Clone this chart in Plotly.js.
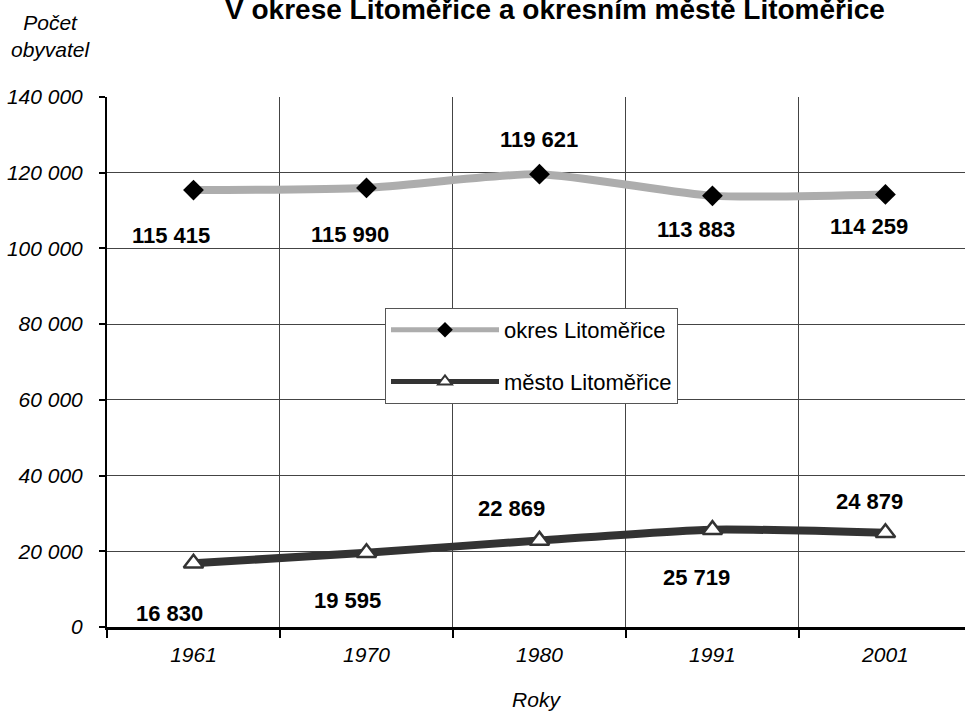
<!DOCTYPE html>
<html>
<head>
<meta charset="utf-8">
<script src="https://cdn.plot.ly/plotly-3.0.1.min.js"></script>
<style>html,body{margin:0;padding:0;background:#fff;}#chart{width:965px;height:713px;}</style>
</head>
<body>
<div id="chart"></div>
<script>
// ---- data ----
var years = ['1961', '1970', '1980', '1991', '2001'];
var okresValues = [115415, 115990, 119621, 113883, 114259];
var mestoValues = [16830, 19595, 22869, 25719, 24879];
var okresName = 'okres Litoměřice';
var mestoName = 'město Litoměřice';
var yTickValues = [0, 20000, 40000, 60000, 80000, 100000, 120000, 140000];
var titleText = 'V okrese Litoměřice a okresním městě Litoměřice';
var yTitleText = 'Počet<br>obyvatel';
var xTitleText = 'Roky';

// ---- label offsets (pixels) ----
var okresShiftX = [-22, -16, 0, -16, -16];
var okresShiftY = [-45, -47, 35, -34, -32];
var mestoShiftX = [-24, -19, -28, -16, -16];
var mestoShiftY = [-50, -48, 32, -48, 31];

function fmt(v) {
  return String(v).replace(/\B(?=(\d{3})+(?!\d))/g, ' ');
}

var FONT = 'Liberation Sans, Arial, sans-serif';

var traces = [
  {
    x: years, y: okresValues, name: okresName, type: 'scatter', mode: 'lines+markers',
    legendgroup: 'a',
    line: {color: '#adadad', width: 8, shape: 'spline', smoothing: 0.6},
    marker: {symbol: 'diamond', size: 16, color: '#000000', line: {width: 0}}
  },
  {
    x: years, y: mestoValues, name: mestoName, type: 'scatter', mode: 'lines+markers',
    legendgroup: 'b',
    line: {color: '#333333', width: 8, shape: 'spline', smoothing: 0.6},
    marker: {symbol: 'triangle-up', size: 17, color: '#ffffff', line: {width: 2.5, color: '#333333'}}
  }
];

var annotations = [];
years.forEach(function (yr, i) {
  annotations.push({
    x: i, y: okresValues[i], xref: 'x', yref: 'y', text: fmt(okresValues[i]),
    showarrow: false, xshift: okresShiftX[i], yshift: okresShiftY[i],
    xanchor: 'center', yanchor: 'middle',
    font: {family: FONT, size: 22, color: '#000', weight: 'bold'}
  });
  annotations.push({
    x: i, y: mestoValues[i], xref: 'x', yref: 'y', text: fmt(mestoValues[i]),
    showarrow: false, xshift: mestoShiftX[i], yshift: mestoShiftY[i],
    xanchor: 'center', yanchor: 'middle',
    font: {family: FONT, size: 22, color: '#000', weight: 'bold'}
  });
});
annotations.push({
  xref: 'paper', yref: 'paper', x: (51 - 107) / 858, y: (627 - 36) / 530,
  xanchor: 'center', yanchor: 'middle', showarrow: false, text: yTitleText,
  font: {family: FONT, size: 21, color: '#000', style: 'italic'}
});

var layout = {
  width: 965, height: 713,
  paper_bgcolor: '#ffffff', plot_bgcolor: '#ffffff',
  margin: {l: 107, r: 0, t: 97, b: 86},
  separators: ', ',
  font: {family: FONT, color: '#000'},
  showlegend: true,
  title: {
    text: titleText, xref: 'paper', x: (555 - 107) / 858, xanchor: 'center',
    yref: 'container', y: 1 - 9 / 713, yanchor: 'middle',
    font: {family: FONT, size: 28, weight: 'bold', color: '#000'}
  },
  xaxis: {
    type: 'category', range: [-0.5, 4.46], tickson: 'boundaries',
    showgrid: true, gridcolor: '#444444', gridwidth: 1,
    showline: true, linecolor: '#000', linewidth: 3,
    ticks: 'outside', ticklen: 8, tickwidth: 2, tickcolor: '#000',
    ticklabelstandoff: 7,
    tickfont: {family: FONT, size: 21, style: 'italic'},
    title: {text: xTitleText, standoff: 28, font: {family: FONT, size: 21, style: 'italic'}},
    zeroline: false, fixedrange: true
  },
  yaxis: {
    range: [0, 140000], tickvals: yTickValues, tickformat: ',d',
    showgrid: true, gridcolor: '#444444', gridwidth: 1,
    showline: true, linecolor: '#000', linewidth: 2,
    ticks: 'outside', ticklen: 6, tickwidth: 2, tickcolor: '#000',
    ticklabelstandoff: 12,
    tickfont: {family: FONT, size: 21, style: 'italic'},
    zeroline: false, fixedrange: true
  },
  legend: {
    x: (385 - 107) / 858, y: (627 - 308) / 530, xanchor: 'left', yanchor: 'top',
    bgcolor: '#ffffff', bordercolor: '#555555', borderwidth: 1,
    font: {family: FONT, size: 22, color: '#000'},
    itemwidth: 108, traceorder: 'grouped', tracegroupgap: 20, itemsizing: 'constant'
  },
  annotations: annotations
};

Plotly.newPlot('chart', traces, layout, {displayModeBar: false, staticPlot: true});
</script>
</body>
</html>
